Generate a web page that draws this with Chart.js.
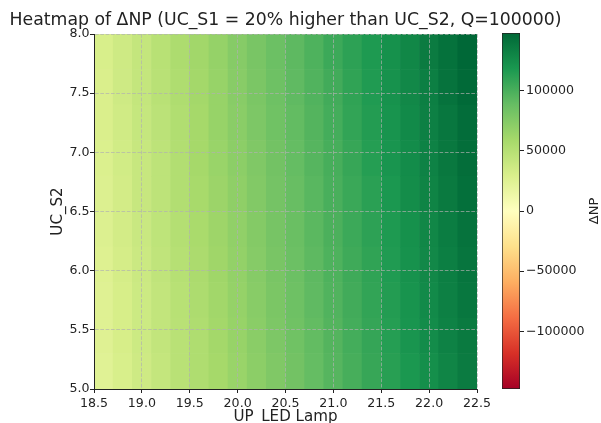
<!DOCTYPE html>
<html>
<head>
<meta charset="utf-8">
<script src="https://cdn.jsdelivr.net/npm/chart.js@4"></script>
<style>
  html, body { margin: 0; padding: 0; background: #fff; }
  #wrap { position: relative; width: 601px; height: 423px; overflow: hidden; }
  #heat { position: absolute; left: 0; top: 0; }
  #cbar { position: absolute; left: 490px; top: 0; }
</style>
</head>
<body>
<div id="wrap">
  <canvas id="heat" width="571" height="423"></canvas>
  <canvas id="cbar" width="111" height="423"></canvas>
</div>
<script>
// grid edges (pcolormesh style)
const upEdges = [18.5, 18.7, 18.9, 19.1, 19.3, 19.5, 19.7, 19.9, 20.1, 20.3, 20.5,
                 20.7, 20.9, 21.1, 21.3, 21.5, 21.7, 21.9, 22.1, 22.3, 22.5];
const ucEdges = [5.0, 5.3, 5.6, 5.9, 6.2, 6.5, 6.8, 7.1, 7.4, 7.7, 8.0];

// ΔNP per row (bottom row first), one value per UP cell
const dnp = [
  [24000, 30000, 36000, 42000, 48000, 54000, 59000, 65000, 71000, 77000, 83000, 89000, 95000, 101000, 107000, 113000, 118000, 124000, 130000, 136000],
  [25000, 31000, 37000, 43000, 48000, 54000, 60000, 66000, 72000, 78000, 84000, 90000, 96000, 102000, 108000, 114000, 120000, 126000, 132000, 137000],
  [25000, 31000, 37000, 43000, 49000, 55000, 61000, 67000, 73000, 79000, 85000, 91000, 97000, 103000, 109000, 115000, 121000, 127000, 133000, 139000],
  [26000, 32000, 38000, 44000, 50000, 56000, 62000, 68000, 74000, 80000, 86000, 92000, 98000, 104000, 110000, 116000, 122000, 128000, 134000, 140000],
  [27000, 33000, 39000, 45000, 51000, 57000, 63000, 69000, 75000, 81000, 87000, 93000, 99000, 105000, 111000, 117000, 123000, 129000, 135000, 141000],
  [27000, 33000, 40000, 46000, 52000, 58000, 64000, 70000, 76000, 82000, 88000, 94000, 100000, 106000, 112000, 118000, 125000, 131000, 137000, 143000],
  [28000, 34000, 40000, 46000, 52000, 59000, 65000, 71000, 77000, 83000, 89000, 95000, 101000, 107000, 114000, 120000, 126000, 132000, 138000, 144000],
  [29000, 35000, 41000, 47000, 53000, 59000, 66000, 72000, 78000, 84000, 90000, 96000, 102000, 109000, 115000, 121000, 127000, 133000, 139000, 145000],
  [29000, 36000, 42000, 48000, 54000, 60000, 66000, 73000, 79000, 85000, 91000, 97000, 103000, 110000, 116000, 122000, 128000, 134000, 141000, 147000],
  [30000, 36000, 42000, 49000, 55000, 61000, 67000, 74000, 80000, 86000, 92000, 98000, 105000, 111000, 117000, 123000, 129000, 136000, 142000, 148000]
];

const xTicks = [18.5, 19.0, 19.5, 20.0, 20.5, 21.0, 21.5, 22.0, 22.5];
const yTicks = [5.0, 5.5, 6.0, 6.5, 7.0, 7.5, 8.0];
const cbTicks = [-100000, -50000, 0, 50000, 100000];
const cbMin = -148000;
const cbMax = 148000;

const rdylgn = ['#a50026', '#d73027', '#f46d43', '#fdae61', '#fee08b', '#ffffbf',
                '#d9ef8b', '#a6d96a', '#66bd63', '#1a9850', '#006837'];

function hexRgb(h) {
  return [parseInt(h.slice(1, 3), 16), parseInt(h.slice(3, 5), 16), parseInt(h.slice(5, 7), 16)];
}

function cmap(v) {
  let t = (v - cbMin) / (cbMax - cbMin);
  t = Math.min(1, Math.max(0, t));
  const p = t * 10;
  const i = Math.min(9, Math.floor(p));
  const f = p - i;
  const a = hexRgb(rdylgn[i]), b = hexRgb(rdylgn[i + 1]);
  const c = a.map((x, k) => Math.round(x + (b[k] - x) * f));
  return 'rgb(' + c.join(',') + ')';
}

Chart.defaults.font.family = "'DejaVu Sans', sans-serif";
Chart.defaults.color = '#222';

const gridColor = 'rgba(176,176,176,0.85)';
const tickFont = { size: 12.6 };
const labelFont = { size: 15.1 };

const datasets = dnp.map((row, r) => ({
  label: 'UC_S2 ' + ucEdges[r],
  data: row.map((v, c) => ({ x: (upEdges[c] + upEdges[c + 1]) / 2, y: [ucEdges[r], ucEdges[r + 1]] })),
  backgroundColor: row.map(v => cmap(v)),
  borderWidth: 0,
  barPercentage: 1,
  categoryPercentage: 1,
  grouped: false
}));

new Chart(document.getElementById('heat'), {
  type: 'bar',
  data: { datasets: datasets },
  options: {
    responsive: false,
    animation: false,
    layout: { padding: 0 },
    plugins: {
      legend: { display: false },
      tooltip: { enabled: false },
      title: {
        display: true,
        text: 'Heatmap of ΔNP (UC_S1 = 20% higher than UC_S2, Q=100000)',
        font: { size: 17.3, weight: 'normal' },
        color: '#222',
        padding: { top: 10.5, bottom: 2.74 }
      }
    },
    scales: {
      x: {
        type: 'linear',
        min: 18.5,
        max: 22.5,
        offset: false,
        grid: { offset: false, z: 1, color: gridColor, lineWidth: 0.8, tickLength: 4, tickColor: '#222', tickWidth: 1 },
        border: { display: true, z: 2, color: '#222', width: 1, dash: [3.7, 1.6] },
        ticks: { font: tickFont, color: '#222', padding: 3, maxRotation: 0, autoSkip: false,
                 callback: v => v.toFixed(1) },
        afterBuildTicks: s => { s.ticks = xTicks.map(v => ({ value: v })); },
        afterFit: s => { s.height = 34; },
        title: { display: true, text: 'UP_LED Lamp', font: labelFont, color: '#222', padding: { top: 0, bottom: -3.5 } }
      },
      y: {
        min: 5,
        max: 8,
        grid: { z: 1, color: gridColor, lineWidth: 0.8, tickLength: 4, tickColor: '#222', tickWidth: 1 },
        border: { display: true, z: 2, color: '#222', width: 1, dash: [3.7, 1.6] },
        ticks: { font: tickFont, color: '#222', padding: 0.5, autoSkip: false,
                 callback: v => v.toFixed(1) },
        afterBuildTicks: s => { s.ticks = yTicks.map(v => ({ value: v })); },
        afterFit: s => { s.width = 94; },
        title: { display: true, text: 'UC_S2', font: labelFont, color: '#222', padding: { top: 49, bottom: 0 } }
      },
      // empty right axis, only keeps room for the colorbar
      yRight: {
        position: 'right',
        display: true,
        grid: { display: false },
        border: { display: false },
        ticks: { display: false },
        afterFit: s => { s.width = 94; }
      }
    }
  }
});

// colorbar label, reads bottom to top like matplotlib
const cbLabel = {
  id: 'cbLabel',
  afterDraw(chart) {
    const { ctx, chartArea } = chart;
    ctx.save();
    ctx.translate(105, (chartArea.top + chartArea.bottom) / 2);
    ctx.rotate(-Math.PI / 2);
    ctx.font = "13px 'DejaVu Sans'";
    ctx.fillStyle = '#222';
    ctx.textAlign = 'center';
    ctx.textBaseline = 'middle';
    ctx.fillText('ΔNP', 0, 0);
    ctx.restore();
  }
};

new Chart(document.getElementById('cbar'), {
  type: 'bar',
  data: {
    labels: ['ΔNP'],
    datasets: [{
      data: [[cbMin, cbMax]],
      backgroundColor: ctx => {
        const area = ctx.chart.chartArea;
        if (!area) return null;
        const g = ctx.chart.ctx.createLinearGradient(0, area.bottom, 0, area.top);
        rdylgn.forEach((c, i) => g.addColorStop(i / 10, c));
        return g;
      },
      borderColor: '#222',
      borderWidth: 1,
      borderSkipped: false,
      barPercentage: 1,
      categoryPercentage: 1
    }]
  },
  options: {
    responsive: false,
    animation: false,
    layout: { padding: { left: 12, right: 0, top: 33, bottom: 34 } },
    plugins: { legend: { display: false }, tooltip: { enabled: false } },
    scales: {
      x: { display: false },
      y: {
        position: 'right',
        min: cbMin,
        max: cbMax,
        grid: { drawOnChartArea: false, drawTicks: true, tickLength: 4, tickColor: '#222', tickWidth: 1 },
        border: { display: false },
        ticks: { font: tickFont, color: '#222', padding: 2,
                 callback: v => (v < 0 ? '\u2212' + Math.abs(v) : String(v)) },
        afterBuildTicks: s => { s.ticks = cbTicks.map(v => ({ value: v })); },
        afterFit: s => { s.width = 81; }
      }
    }
  },
  plugins: [cbLabel]
});
</script>
</body>
</html>
